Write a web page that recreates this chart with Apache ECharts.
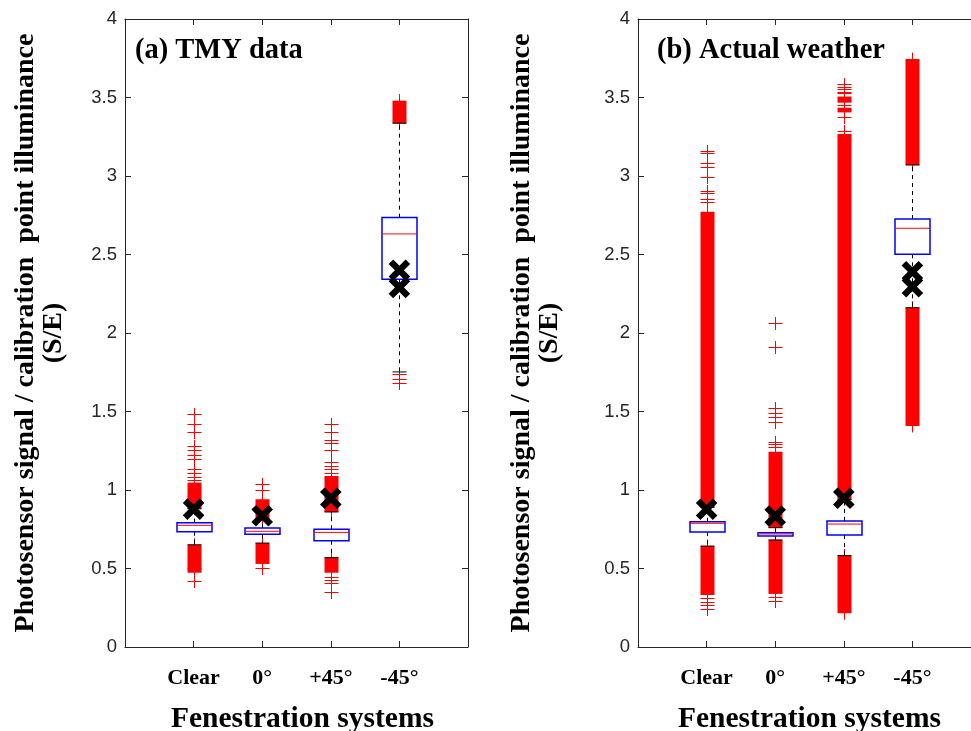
<!DOCTYPE html>
<html>
<head>
<meta charset="utf-8">
<script src="https://cdn.jsdelivr.net/npm/echarts@6/dist/echarts.min.js"></script>
<style>
html,body{margin:0;padding:0;background:#fff;}
#chart{width:971px;height:731px;}
</style>
</head>
<body>
<div id="chart"></div>
<script>
// ---------- data ----------
const categories = ['Clear', '0°', '+45°', '-45°'];
const yTicks = [0, 0.5, 1, 1.5, 2, 2.5, 3, 3.5, 4];
const panelTitles = ['(a) TMY data', '(b) Actual weather'];

// box stats: [category position, lower whisker, Q1, median, Q3, upper whisker]
const boxA = [
  [1, 0.651, 0.734, 0.775, 0.792, 0.880],
  [2, 0.662, 0.718, 0.737, 0.758, 0.818],
  [3, 0.569, 0.677, 0.730, 0.750, 0.860],
  [4, 1.752, 2.342, 2.631, 2.735, 3.336]
];
const boxB = [
  [1, 0.643, 0.732, 0.788, 0.798, 0.890],
  [2, 0.682, 0.707, 0.720, 0.728, 0.760],
  [3, 0.582, 0.713, 0.783, 0.803, 0.940],
  [4, 2.161, 2.501, 2.667, 2.726, 3.070]
];

// measured (black X) values: [category position, value]
const measA = [[1, 0.878], [2, 0.836], [3, 0.947], [4, 2.400], [4, 2.290]];
const measB = [[1, 0.877], [2, 0.834], [3, 0.947], [4, 2.390], [4, 2.295]];

// dense runs of overlapping outliers: [category position, low, high]
const denseA = [
  [1, 0.880, 1.047], [1, 0.473, 0.651],
  [2, 0.818, 0.941], [2, 0.529, 0.662],
  [3, 0.860, 1.089], [3, 0.473, 0.569],
  [4, 3.336, 3.480]
];
const denseB = [
  [1, 0.890, 2.773], [1, 0.331, 0.643],
  [2, 0.760, 1.244], [2, 0.338, 0.682],
  [3, 0.940, 3.268], [3, 3.405, 3.435], [3, 3.467, 3.506], [3, 0.215, 0.582],
  [4, 3.070, 3.745], [4, 1.408, 2.161]
];

// individual outliers: [category position, value]
const outA = [
  [1, 1.064], [1, 1.085], [1, 1.106], [1, 1.134], [1, 1.197], [1, 1.223], [1, 1.255], [1, 1.280], [1, 1.371], [1, 1.418], [1, 1.484],
  [1, 0.501], [1, 0.420],
  [2, 1.000], [2, 1.038], [2, 0.501],
  [3, 1.110], [3, 1.132], [3, 1.153], [3, 1.180], [3, 1.255], [3, 1.297], [3, 1.318], [3, 1.371], [3, 1.418],
  [3, 0.448], [3, 0.427], [3, 0.405], [3, 0.350],
  [4, 1.739], [4, 1.709], [4, 1.683]
];
const outB = [
  [1, 2.836], [1, 2.852], [1, 2.890], [1, 2.907], [1, 2.992], [1, 3.059], [1, 3.081], [1, 3.144], [1, 3.161],
  [1, 0.310], [1, 0.289], [1, 0.270], [1, 0.240],
  [2, 1.276], [2, 1.293], [2, 1.308], [2, 1.435], [2, 1.467], [2, 1.492], [2, 1.520], [2, 1.909], [2, 2.062],
  [2, 0.320], [2, 0.293],
  [3, 3.287], [3, 3.374], [3, 3.452], [3, 3.527], [3, 3.537], [3, 3.552], [3, 3.569], [3, 3.584]
];

// ---------- styles ----------
const AXC = '#262626';
const SERIF = '"Liberation Serif", "Times New Roman", serif';
const SANS = '"Liberation Sans", Arial, sans-serif';
const RED = '#ff0000', BLUE = '#0000ff';

const grids = [
  {left: 125, top: 19, width: 343, height: 628, outerBoundsMode: 'none', containLabel: false},
  {left: 638, top: 19, width: 343, height: 628, outerBoundsMode: 'none', containLabel: false}
];

function xAxes(g, namePad) {
  const base = {
    gridIndex: g, type: 'value', min: 0, max: 5, interval: 1,
    axisLine: {show: true, onZero: false, lineStyle: {color: AXC, width: 1}},
    axisTick: {show: true, inside: true, length: 6, lineStyle: {color: AXC}},
    splitLine: {show: false}
  };
  return [
    Object.assign({}, base, {
      position: 'bottom',
      axisLabel: {
        show: true, margin: 20, color: '#000',
        fontFamily: SERIF, fontWeight: 'bold', fontSize: 22,
        formatter: v => categories[v - 1] || ''
      },
      name: 'Fenestration systems', nameLocation: 'middle', nameGap: 57,
      nameTextStyle: {fontFamily: SERIF, fontWeight: 'bold', fontSize: 29.5, color: '#000', padding: namePad}
    }),
    Object.assign({}, base, {position: 'top', axisLabel: {show: false}})
  ];
}
function yAxes(g, gap) {
  const base = {
    gridIndex: g, type: 'value', min: yTicks[0], max: yTicks[yTicks.length - 1], interval: 0.5,
    axisLine: {show: true, onZero: false, lineStyle: {color: AXC, width: 1}},
    axisTick: {show: true, inside: true, length: 6, lineStyle: {color: AXC}},
    splitLine: {show: false}
  };
  return [
    Object.assign({}, base, {
      position: 'left',
      axisLabel: {show: true, margin: 8, color: AXC, fontFamily: SANS, fontSize: 18.5},
      name: 'Photosensor signal / calibration  point illuminance\n(S/E)',
      nameLocation: 'middle', nameRotate: 90, nameGap: gap,
      nameTextStyle: {fontFamily: SERIF, fontWeight: 'bold', fontSize: 28, lineHeight: 28, color: '#000', align: 'center'}
    }),
    Object.assign({}, base, {position: 'right', axisLabel: {show: false}})
  ];
}

function renderDense(params, api) {
  const a = api.coord([api.value(0), api.value(1)]);
  const b = api.coord([api.value(0), api.value(2)]);
  const cx = Math.round(a[0]) + 0.5;
  return {type: 'group', children: [
    {type: 'rect', shape: {x: cx - 7, y: b[1], width: 14, height: a[1] - b[1]}, style: {fill: RED}},
    {type: 'line', shape: {x1: cx, y1: b[1] - 6.5, x2: cx, y2: a[1] + 6.5}, style: {stroke: RED, lineWidth: 1}}
  ]};
}
function renderPlus(params, api) {
  const p = api.coord([api.value(0), api.value(1)]);
  const cx = Math.round(p[0]) + 0.5, cy = Math.round(p[1]) + 0.5;
  return {type: 'group', children: [
    {type: 'line', shape: {x1: cx - 7, y1: cy, x2: cx + 7, y2: cy}, style: {stroke: RED, lineWidth: 1}},
    {type: 'line', shape: {x1: cx, y1: cy - 6.5, x2: cx, y2: cy + 6.5}, style: {stroke: RED, lineWidth: 1}}
  ]};
}
function renderBox(params, api) {
  const x = api.value(0);
  const c = v => api.coord([x, v]);
  const lw = c(api.value(1)), q1 = c(api.value(2)), md = c(api.value(3)), q3 = c(api.value(4)), hw = c(api.value(5));
  const cx = Math.round(lw[0]) + 0.5;
  const hb = 17.5, hc = 7;
  const dash = {stroke: '#000', lineWidth: 1, lineDash: [4, 4]};
  return {type: 'group', children: [
    {type: 'line', shape: {x1: cx, y1: q3[1], x2: cx, y2: hw[1]}, style: dash},
    {type: 'line', shape: {x1: cx, y1: q1[1], x2: cx, y2: lw[1]}, style: dash},
    {type: 'line', shape: {x1: cx - hc, y1: hw[1], x2: cx + hc, y2: hw[1]}, style: {stroke: '#000', lineWidth: 1}},
    {type: 'line', shape: {x1: cx - hc, y1: lw[1], x2: cx + hc, y2: lw[1]}, style: {stroke: '#000', lineWidth: 1}},
    {type: 'rect', shape: {x: cx - hb, y: q3[1], width: 2 * hb, height: q1[1] - q3[1]}, style: {fill: '#fff', stroke: BLUE, lineWidth: 1.5}},
    {type: 'line', shape: {x1: cx - hb, y1: md[1], x2: cx + hb, y2: md[1]}, style: {stroke: RED, lineWidth: 1}}
  ]};
}
function renderX(params, api) {
  const p = api.coord([api.value(0), api.value(1)]);
  const s = 8.5;
  const st = {stroke: '#000', lineWidth: 6.5};
  return {type: 'group', children: [
    {type: 'line', shape: {x1: p[0] - s, y1: p[1] - s, x2: p[0] + s, y2: p[1] + s}, style: st},
    {type: 'line', shape: {x1: p[0] - s, y1: p[1] + s, x2: p[0] + s, y2: p[1] - s}, style: st}
  ]};
}

function panelSeries(xi, yi, dense, outs, boxes, meas) {
  const common = {type: 'custom', coordinateSystem: 'cartesian2d', xAxisIndex: xi, yAxisIndex: yi, silent: true, animation: false, clip: false};
  return [
    Object.assign({}, common, {renderItem: renderDense, data: dense, encode: {x: 0, y: [1, 2]}}),
    Object.assign({}, common, {renderItem: renderPlus, data: outs, encode: {x: 0, y: 1}}),
    Object.assign({}, common, {renderItem: renderBox, data: boxes, encode: {x: 0, y: [1, 2, 3, 4, 5]}}),
    Object.assign({}, common, {renderItem: renderX, data: meas, encode: {x: 0, y: 1}})
  ];
}

const option = {
  backgroundColor: '#fff',
  animation: false,
  grid: grids,
  xAxis: [].concat(xAxes(0, [0, 0, 0, 12]), xAxes(1, 0)),
  yAxis: [].concat(yAxes(0, 57), yAxes(1, 74)),
  graphic: [
    {type: 'text', left: 135, top: 36, style: {text: panelTitles[0], font: 'bold 28.5px ' + SERIF, fill: '#000'}},
    {type: 'text', left: 657, top: 36, style: {text: panelTitles[1], font: 'bold 28.5px ' + SERIF, fill: '#000'}}
  ],
  series: [].concat(
    panelSeries(0, 0, denseA, outA, boxA, measA),
    panelSeries(2, 2, denseB, outB, boxB, measB)
  )
};

const chart = echarts.init(document.getElementById('chart'), null, {renderer: 'canvas'});
chart.setOption(option);
</script>
</body>
</html>
